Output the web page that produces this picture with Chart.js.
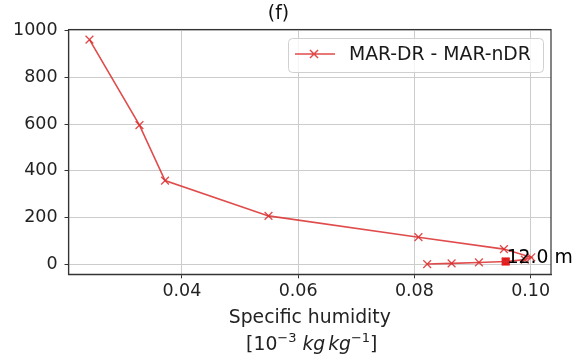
<!DOCTYPE html>
<html>
<head>
<meta charset="utf-8">
<script src="https://cdn.jsdelivr.net/npm/chart.js@4.4.0/dist/chart.umd.min.js"></script>
<style>
  html, body { margin: 0; padding: 0; background: #fff; }
  #wrap { width: 575px; height: 358px; }
</style>
</head>
<body>
<div id="wrap"><canvas id="chart" width="575" height="358"></canvas></div>
<script>
  // ── Data ───────────────────────────────────────────────
  const HUMIDITY = [0.0241, 0.0327, 0.0371, 0.0549, 0.0807, 0.0954, 0.1001, 0.0990, 0.0957, 0.0911, 0.0864, 0.0822];
  const HEIGHT   = [961, 595, 358, 207, 116, 65, 30, 20, 12, 8, 4, 1];
  const MARK_POINT = [0.0957, 12];
  const MARK_LABEL = '12.0 m';
  const X_TICKS = [0.04, 0.06, 0.08, 0.10];
  const Y_TICKS = [0, 200, 400, 600, 800, 1000];
  const SERIES_LABEL = 'MAR-DR - MAR-nDR';

  const RED = 'rgba(218, 45, 45, 0.85)';
  const FONT = "'DejaVu Sans', sans-serif";
  const LABEL_SIZE = 18.8;
  const TICK_SIZE = 17.5;

  // full frame around the plot area (Chart.js only draws left/bottom)
  const framePlugin = {
    id: 'frame',
    afterDraw(chart) {
      const { ctx, chartArea: a } = chart;
      ctx.save();
      ctx.strokeStyle = '#333';
      ctx.lineWidth = 1.2;
      ctx.strokeRect(a.left, a.top, a.right - a.left, a.bottom - a.top);
      ctx.restore();
    }
  };

  // legend box drawn like matplotlib (line + marker)
  const legendPlugin = {
    id: 'mplLegend',
    afterDraw(chart) {
      const ctx = chart.ctx;
      const x0 = 288, y0 = 38, w = 255, h = 34, cy = 54;
      ctx.save();
      ctx.fillStyle = 'rgba(255,255,255,0.8)';
      ctx.strokeStyle = '#d0d0d0';
      ctx.lineWidth = 1;
      ctx.beginPath();
      ctx.roundRect(x0 + 0.5, y0 + 0.5, w, h, 4);
      ctx.fill();
      ctx.stroke();
      ctx.strokeStyle = RED;
      ctx.lineWidth = 1.5;
      ctx.beginPath();
      ctx.moveTo(295, cy); ctx.lineTo(335, cy);
      ctx.moveTo(310, cy - 4); ctx.lineTo(318, cy + 4);
      ctx.moveTo(318, cy - 4); ctx.lineTo(310, cy + 4);
      ctx.stroke();
      ctx.fillStyle = '#1a1a1a';
      ctx.font = LABEL_SIZE + 'px ' + FONT;
      ctx.textBaseline = 'middle';
      ctx.fillText(SERIES_LABEL, 349, cy + 1);
      ctx.restore();
    }
  };

  // text label next to the marked point + second line of the x title
  const annotPlugin = {
    id: 'annot',
    afterDraw(chart) {
      const { ctx, scales } = chart;
      const px = scales.x.getPixelForValue(MARK_POINT[0]);
      const py = scales.y.getPixelForValue(MARK_POINT[1]);
      ctx.save();
      ctx.fillStyle = '#000';
      ctx.font = LABEL_SIZE + 'px ' + FONT;
      ctx.textBaseline = 'alphabetic';
      ctx.fillText(MARK_LABEL, px + 1, py + 1);

      // "[10^-3 kg kg^-1]"
      const parts = [
        { t: '[10', f: LABEL_SIZE + 'px ' + FONT, dy: 0 },
        { t: '\u22123', f: '13px ' + FONT, dy: -8 },
        { t: ' ', f: LABEL_SIZE + 'px ' + FONT, dy: 0 },
        { t: 'kg', f: 'italic ' + LABEL_SIZE + 'px ' + FONT, dy: 0 },
        { t: ' ', f: '9px ' + FONT, dy: 0 },
        { t: 'kg', f: 'italic ' + LABEL_SIZE + 'px ' + FONT, dy: 0 },
        { t: '\u22121', f: '13px ' + FONT, dy: -8 },
        { t: ']', f: LABEL_SIZE + 'px ' + FONT, dy: 0 },
      ];
      let total = 0;
      parts.forEach((p) => { ctx.font = p.f; p.w = ctx.measureText(p.t).width; total += p.w; });
      const cx = (chart.chartArea.left + chart.chartArea.right) / 2 + 2;
      let x = cx - total / 2;
      const base = 350;
      ctx.fillStyle = '#222';
      parts.forEach((p) => { ctx.font = p.f; ctx.fillText(p.t, x, base + p.dy); x += p.w; });
      ctx.restore();
    }
  };

  new Chart(document.getElementById('chart').getContext('2d'), {
    type: 'scatter',
    data: {
      datasets: [
        {
          label: SERIES_LABEL,
          data: HUMIDITY.map((v, i) => ({ x: v, y: HEIGHT[i] })),
          showLine: true,
          borderColor: RED,
          borderWidth: 1.6,
          pointStyle: 'crossRot',
          pointRadius: 5.5,
          pointBorderColor: RED,
          pointBorderWidth: 1.3,
          pointBackgroundColor: RED,
        },
        {
          label: 'mark',
          data: [{ x: MARK_POINT[0], y: MARK_POINT[1] }],
          pointStyle: 'rect',
          pointRadius: 5,
          pointBackgroundColor: 'rgb(230, 20, 20)',
          pointBorderColor: 'rgb(230, 20, 20)',
        },
      ],
    },
    options: {
      responsive: false,
      animation: false,
      layout: { padding: { left: 6, right: 24, top: 1, bottom: 0 } },
      plugins: {
        legend: { display: false },
        tooltip: { enabled: false },
        title: {
          display: true,
          text: '(f)',
          color: '#111',
          font: { family: FONT, size: LABEL_SIZE, weight: 'normal' },
          padding: { top: 2, bottom: 4 },
        },
      },
      scales: {
        x: {
          type: 'linear',
          min: 0.0205,
          max: 0.1035,
          afterBuildTicks: (axis) => { axis.ticks = X_TICKS.map((v) => ({ value: v })); },
          ticks: {
            color: '#222',
            font: { family: FONT, size: TICK_SIZE },
            padding: 3,
            maxRotation: 0,
            callback: (v) => v.toFixed(2),
          },
          grid: { color: '#cccccc', tickLength: 4, tickColor: '#333' },
          border: { color: '#333', width: 1.2 },
          title: {
            display: true,
            text: ['Specific humidity', ' '],
            color: '#222',
            font: { family: FONT, size: LABEL_SIZE, lineHeight: 1.4 },
            padding: { top: 0, bottom: 0 },
          },
        },
        y: {
          type: 'linear',
          min: -43,
          max: 1004,
          afterBuildTicks: (axis) => { axis.ticks = Y_TICKS.map((v) => ({ value: v })); },
          ticks: {
            color: '#222',
            font: { family: FONT, size: TICK_SIZE },
            padding: 7,
            callback: (v) => String(v),
          },
          grid: { color: '#cccccc', tickLength: 4, tickColor: '#333' },
          border: { color: '#333', width: 1.2 },
        },
      },
    },
    plugins: [framePlugin, legendPlugin, annotPlugin],
  });
</script>
</body>
</html>
